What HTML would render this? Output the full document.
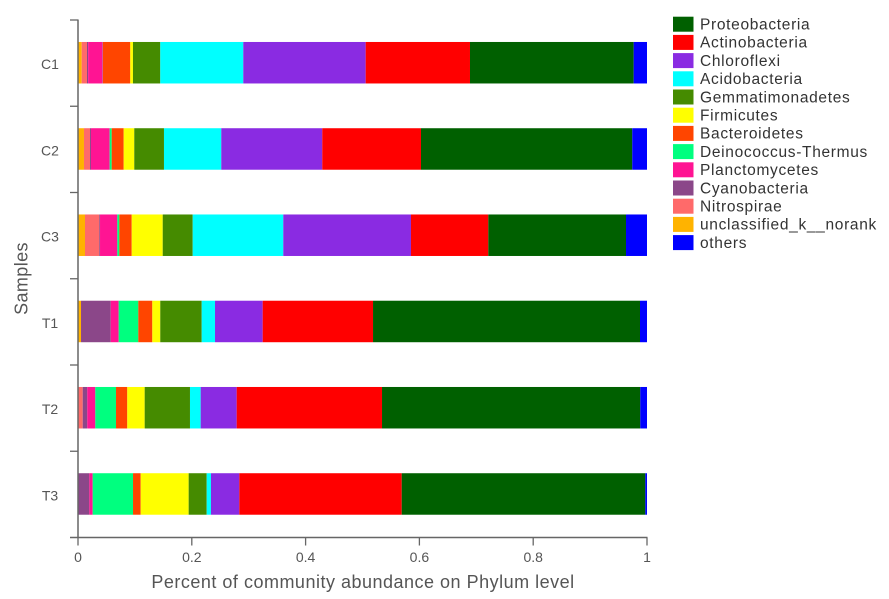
<!DOCTYPE html>
<html lang="en">
<head>
<meta charset="utf-8">
<title>Community abundance on Phylum level</title>
<style>
  html, body { margin: 0; padding: 0; background: #fff; }
  body { width: 889px; height: 599px; overflow: hidden; }
  svg { display: block; font-family: "Liberation Sans", Arial, sans-serif; }
</style>
</head>
<body>
<svg id="chart" xmlns="http://www.w3.org/2000/svg" width="889" height="599" viewBox="0 0 889 599">
  <g id="bars"></g>
  <g id="axes"></g>
  <g id="legend"></g>
</svg>
<script>
const samples = ["C1", "C2", "C3", "T1", "T2", "T3"];
const xTickValues = [0, 0.2, 0.4, 0.6, 0.8, 1];
const xTickLabels = ["0", "0.2", "0.4", "0.6", "0.8", "1"];

const legendNames = ["Proteobacteria", "Actinobacteria", "Chloroflexi", "Acidobacteria", "Gemmatimonadetes", "Firmicutes", "Bacteroidetes", "Deinococcus-Thermus", "Planctomycetes", "Cyanobacteria", "Nitrospirae", "unclassified_k__norank", "others"];
const legendColors = ["#006000", "#ff0000", "#8a2be2", "#00ffff", "#458b00", "#ffff00", "#ff4500", "#00ff7f", "#ff1493", "#8b4789", "#ff6a6a", "#ffb300", "#0000ff"];

const proteobacteria = [0.2877, 0.3713, 0.2420, 0.4692, 0.4539, 0.4281];
const actinobacteria = [0.1833, 0.1735, 0.1359, 0.1939, 0.2554, 0.2854];
const chloroflexi = [0.2151, 0.1775, 0.2244, 0.0838, 0.0633, 0.0498];
const acidobacteria = [0.1459, 0.1007, 0.1592, 0.0234, 0.0188, 0.0075];
const gemmatimonadetes = [0.0480, 0.0522, 0.0527, 0.0728, 0.0796, 0.0317];
const firmicutes = [0.0047, 0.0186, 0.0545, 0.0140, 0.0306, 0.0843];
const bacteroidetes = [0.0480, 0.0211, 0.0218, 0.0246, 0.0198, 0.0135];
const deinococcus = [0.0003, 0.0035, 0.0035, 0.0345, 0.0364, 0.0709];
const planctomycetes = [0.0258, 0.0329, 0.0304, 0.0140, 0.0141, 0.0059];
const cyanobacteria = [0.0020, 0.0017, 0.0013, 0.0522, 0.0080, 0.0199];
const nitrospirae = [0.0093, 0.0106, 0.0251, 0.0000, 0.0078, 0.0000];
const unclassified = [0.0065, 0.0105, 0.0123, 0.0053, 0.0005, 0.0000];
const others = [0.0234, 0.0259, 0.0369, 0.0123, 0.0118, 0.0030];

const seriesValues = [proteobacteria, actinobacteria, chloroflexi, acidobacteria, gemmatimonadetes, firmicutes, bacteroidetes, deinococcus, planctomycetes, cyanobacteria, nitrospirae, unclassified, others];
const stackOrder = [11, 10, 9, 8, 7, 6, 5, 4, 3, 2, 1, 0, 12];

const NS = "http://www.w3.org/2000/svg";
const plotLeft = 78, plotRight = 647, plotTop = 20, plotBottom = 537.5;
const bandStep = (plotBottom - plotTop) / samples.length;
const barHeight = 41.5;
const axisColor = "#666666";
const labelColor = "#555555";

function xScale(v) { return plotLeft + v * (plotRight - plotLeft); }
function yBandCenter(i) { return plotTop + bandStep * (i + 0.5); }
function yBandEdge(i) { return plotTop + bandStep * i; }

function make(tag, attrs, parent) {
  const el = document.createElementNS(NS, tag);
  for (const k in attrs) el.setAttribute(k, attrs[k]);
  parent.appendChild(el);
  return el;
}

function slug(s) { return s.toLowerCase().replace(/[^a-z0-9]+/g, "-").replace(/^-|-$/g, ""); }

const barsG = document.getElementById("bars");
samples.forEach(function (sample, i) {
  const group = make("g", {}, barsG);
  
  
  let cum = 0;
  stackOrder.forEach(function (s) {
    const val = seriesValues[s][i];
    const x0 = xScale(cum);
    const x1 = xScale(cum + val);
    cum += val;
    const rect = make("rect", {
      x: x0,
      y: yBandCenter(i) - barHeight / 2 - 0.4,
      width: Math.max(0, x1 - x0),
      height: barHeight,
      fill: legendColors[s]
    }, group);
    
    
  });
});

const axesG = document.getElementById("axes");

const yAxisLine = make("line", { x1: plotLeft, x2: plotLeft, y1: plotTop - 0.5, y2: plotBottom + 0.5, stroke: axisColor, "stroke-width": 1.5 }, axesG);



const xAxisLine = make("line", { x1: plotLeft - 8, x2: plotRight + 0.5, y1: plotBottom, y2: plotBottom, stroke: axisColor, "stroke-width": 1.5 }, axesG);



for (let i = 0; i < samples.length; i++) {
  const tick = make("line", { x1: plotLeft - 8, x2: plotLeft, y1: yBandEdge(i), y2: yBandEdge(i), stroke: axisColor, "stroke-width": 1.3 }, axesG);
  
  

  const label = make("text", { x: 50, y: yBandCenter(i) + 6, "text-anchor": "middle", "font-size": 14, fill: labelColor }, axesG);
  
  
  label.textContent = samples[i];
}

xTickValues.forEach(function (v, i) {
  const tick = make("line", { x1: xScale(v), x2: xScale(v), y1: plotBottom, y2: plotBottom + 8, stroke: axisColor, "stroke-width": 1.3 }, axesG);
  
  

  const label = make("text", { x: xScale(v), y: 562, "text-anchor": "middle", "font-size": 14, fill: labelColor }, axesG);
  
  
  label.textContent = xTickLabels[i];
});

const xTitle = make("text", { x: 363, y: 588, "text-anchor": "middle", "font-size": 18, "letter-spacing": "0.5", fill: labelColor }, axesG);


xTitle.textContent = "Percent of community abundance on Phylum level";

const yTitle = make("text", { x: 0, y: 0, transform: "translate(27.5,278.5) rotate(-90)", "text-anchor": "middle", "font-size": 18, "letter-spacing": "0.4", fill: labelColor }, axesG);


yTitle.textContent = "Samples";

const legendG = document.getElementById("legend");
legendNames.forEach(function (name, i) {
  const entry = make("g", {}, legendG);
  
  

  const top = 16.7 + i * 18.2;
  const swatch = make("rect", { x: 673, y: top, width: 20.5, height: 15, fill: legendColors[i] }, entry);
  
  

  const label = make("text", { x: 700, y: top + 12.8, "font-size": 15.5, "letter-spacing": "0.68", fill: "#333333" }, entry);
  
  
  label.textContent = name;
});
</script>
</body>
</html>
